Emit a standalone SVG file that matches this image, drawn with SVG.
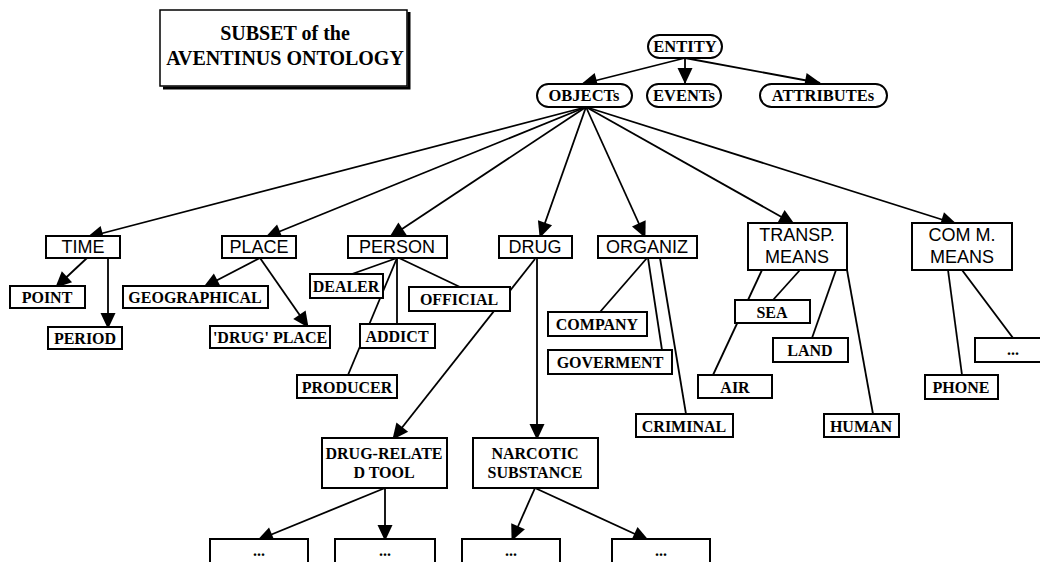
<svg xmlns="http://www.w3.org/2000/svg" width="1040" height="562" viewBox="0 0 1040 562">
<defs>
<marker id="ah" markerUnits="userSpaceOnUse" markerWidth="18" markerHeight="18" viewBox="0 0 18 18" refX="16" refY="9" orient="auto">
<path d="M1,1.5 L17,9 L1,16.5 Z" fill="#000"/>
</marker>
<style>
.bg{fill:#fff}
.box{fill:#fff;stroke:#000;stroke-width:2}
.pill{fill:#fff;stroke:#000;stroke-width:2}
.c{stroke:#000;stroke-width:1.8;fill:none}
.a{stroke:#000;stroke-width:1.8;fill:none;marker-end:url(#ah)}
.s{font-family:"Liberation Sans",Arial,sans-serif;font-size:18px;text-anchor:middle;fill:#000}
.f{font-family:"Liberation Serif","Times New Roman",serif;font-weight:bold;font-size:16px;text-anchor:middle;fill:#000}
.p{font-family:"Liberation Serif","Times New Roman",serif;font-weight:bold;font-size:16.5px;text-anchor:middle;fill:#000}
.t{font-family:"Liberation Serif","Times New Roman",serif;font-weight:bold;font-size:20px;text-anchor:middle;fill:#000}
</style>
</defs>
<rect class="bg" x="0" y="0" width="1040" height="562"/>

<g id="title">
<rect x="160" y="10" width="247" height="76" fill="#fff" stroke="#000" stroke-width="1.5"/>
<path d="M409,12 V88 H163" fill="none" stroke="#000" stroke-width="3"/>
<text class="t" x="285" y="40">SUBSET of the</text>
<text class="t" x="285" y="65">AVENTINUS ONTOLOGY</text>
</g>

<g id="connectors">
<line class="a" x1="685" y1="58" x2="582" y2="84"/>
<line class="a" x1="685" y1="58" x2="685" y2="83"/>
<line class="a" x1="685" y1="58" x2="820" y2="83"/>

<line class="a" x1="586" y1="107" x2="88" y2="237"/>
<line class="a" x1="586" y1="107" x2="266" y2="237"/>
<line class="a" x1="586" y1="107" x2="390" y2="237"/>
<line class="a" x1="586" y1="107" x2="540" y2="237"/>
<line class="a" x1="586" y1="107" x2="645" y2="237"/>
<line class="a" x1="586" y1="107" x2="794" y2="224"/>
<line class="a" x1="586" y1="107" x2="956" y2="224"/>

<line class="a" x1="87" y1="258" x2="56" y2="287"/>
<line class="a" x1="108" y1="258" x2="108" y2="328"/>
<line class="a" x1="260" y1="258" x2="204" y2="287"/>
<line class="a" x1="260" y1="258" x2="308" y2="327"/>

<line class="c" x1="397" y1="258" x2="352" y2="274"/>
<line class="c" x1="397" y1="258" x2="397" y2="324"/>
<line class="c" x1="397" y1="258" x2="348" y2="375"/>
<line class="c" x1="399" y1="258" x2="460" y2="287"/>

<line class="a" x1="537" y1="259" x2="537" y2="439"/>
<line class="a" x1="535" y1="259" x2="393" y2="439"/>

<line class="c" x1="647" y1="258" x2="600" y2="312"/>
<line class="c" x1="648" y1="258" x2="662" y2="350"/>
<line class="c" x1="660" y1="258" x2="686" y2="414"/>

<line class="c" x1="762" y1="270" x2="713" y2="375"/>
<line class="c" x1="800" y1="270" x2="773" y2="300"/>
<line class="c" x1="836" y1="270" x2="812" y2="338"/>
<line class="c" x1="847" y1="270" x2="873" y2="414"/>

<line class="c" x1="948" y1="270" x2="962" y2="375"/>
<line class="c" x1="962" y1="270" x2="1013" y2="338"/>

<line class="a" x1="385" y1="488" x2="258" y2="540"/>
<line class="a" x1="385" y1="488" x2="385" y2="540"/>
<line class="a" x1="535" y1="488" x2="512" y2="540"/>
<line class="a" x1="535" y1="488" x2="648" y2="540"/>
</g>

<g id="entity"><rect class="pill" x="648" y="35" width="74" height="23" rx="11.5"/><text class="p" x="685" y="52">ENTITY</text></g>
<g id="objects"><rect class="pill" x="537" y="84" width="95" height="23" rx="11.5"/><text class="p" x="584" y="101">OBJECTs</text></g>
<g id="events"><rect class="pill" x="647" y="84" width="74" height="23" rx="11.5"/><text class="p" x="684" y="101">EVENTs</text></g>
<g id="attributes"><rect class="pill" x="760" y="84" width="127" height="23" rx="11.5"/><text class="p" x="823" y="101">ATTRIBUTEs</text></g>

<g id="time"><rect class="box" x="46" y="236" width="74" height="22"/><text class="s" x="83" y="253">TIME</text></g>
<g id="place"><rect class="box" x="222" y="236" width="74" height="22"/><text class="s" x="259" y="253">PLACE</text></g>
<g id="person"><rect class="box" x="348" y="236" width="99" height="22"/><text class="s" x="397" y="253">PERSON</text></g>
<g id="drug"><rect class="box" x="499" y="236" width="73" height="22"/><text class="s" x="535" y="253">DRUG</text></g>
<g id="organiz"><rect class="box" x="598" y="236" width="99" height="22"/><text class="s" x="647" y="253">ORGANIZ</text></g>
<g id="transp"><rect class="box" x="748" y="223" width="99" height="47"/><text class="s" x="797" y="241">TRANSP.</text><text class="s" x="797" y="263">MEANS</text></g>
<g id="comm"><rect class="box" x="912" y="223" width="100" height="47"/><text class="s" x="962" y="241">COM M.</text><text class="s" x="962" y="263">MEANS</text></g>

<g id="point"><rect class="box" x="10" y="286" width="75" height="22"/><text class="f" x="47" y="303">POINT</text></g>
<g id="period"><rect class="box" x="48" y="327" width="74" height="22"/><text class="f" x="85" y="344">PERIOD</text></g>
<g id="geographical"><rect class="box" x="123" y="286" width="145" height="22"/><text class="f" x="195" y="303">GEOGRAPHICAL</text></g>
<g id="drugplace"><rect class="box" x="210" y="326" width="120" height="22"/><text class="f" x="270" y="343">'DRUG' PLACE</text></g>
<g id="dealer"><rect class="box" x="310" y="274" width="73" height="24"/><text class="f" x="346" y="292">DEALER</text></g>
<g id="official"><rect class="box" x="409" y="287" width="101" height="24"/><text class="f" x="459" y="305">OFFICIAL</text></g>
<g id="addict"><rect class="box" x="360" y="324" width="75" height="24"/><text class="f" x="397" y="342">ADDICT</text></g>
<g id="producer"><rect class="box" x="297" y="375" width="100" height="23"/><text class="f" x="347" y="393">PRODUCER</text></g>

<g id="company"><rect class="box" x="548" y="312" width="99" height="24"/><text class="f" x="597" y="330">COMPANY</text></g>
<g id="goverment"><rect class="box" x="548" y="350" width="124" height="24"/><text class="f" x="610" y="368">GOVERMENT</text></g>
<g id="criminal"><rect class="box" x="636" y="414" width="97" height="23"/><text class="f" x="684" y="432">CRIMINAL</text></g>

<g id="sea"><rect class="box" x="735" y="300" width="75" height="23"/><text class="f" x="772" y="318">SEA</text></g>
<g id="land"><rect class="box" x="773" y="338" width="75" height="24"/><text class="f" x="810" y="356">LAND</text></g>
<g id="air"><rect class="box" x="698" y="375" width="74" height="23"/><text class="f" x="735" y="393">AIR</text></g>
<g id="human"><rect class="box" x="824" y="414" width="75" height="23"/><text class="f" x="861" y="432">HUMAN</text></g>

<g id="phone"><rect class="box" x="925" y="375" width="73" height="24"/><text class="f" x="961" y="393">PHONE</text></g>
<g id="comm-more"><rect class="box" x="975" y="338" width="70" height="24"/><text class="f" x="1013" y="355">...</text></g>

<g id="tool"><rect class="box" x="322" y="438" width="125" height="50"/><text class="f" x="384" y="459">DRUG-RELATE</text><text class="f" x="384" y="478">D TOOL</text></g>
<g id="narcotic"><rect class="box" x="473" y="438" width="125" height="50"/><text class="f" x="535" y="459">NARCOTIC</text><text class="f" x="535" y="478">SUBSTANCE</text></g>

<g id="more1"><rect class="box" x="210" y="539" width="98" height="30"/><text class="f" x="259" y="556">...</text></g>
<g id="more2"><rect class="box" x="335" y="539" width="100" height="30"/><text class="f" x="385" y="556">...</text></g>
<g id="more3"><rect class="box" x="462" y="539" width="98" height="30"/><text class="f" x="511" y="556">...</text></g>
<g id="more4"><rect class="box" x="612" y="539" width="98" height="30"/><text class="f" x="661" y="556">...</text></g>
</svg>
